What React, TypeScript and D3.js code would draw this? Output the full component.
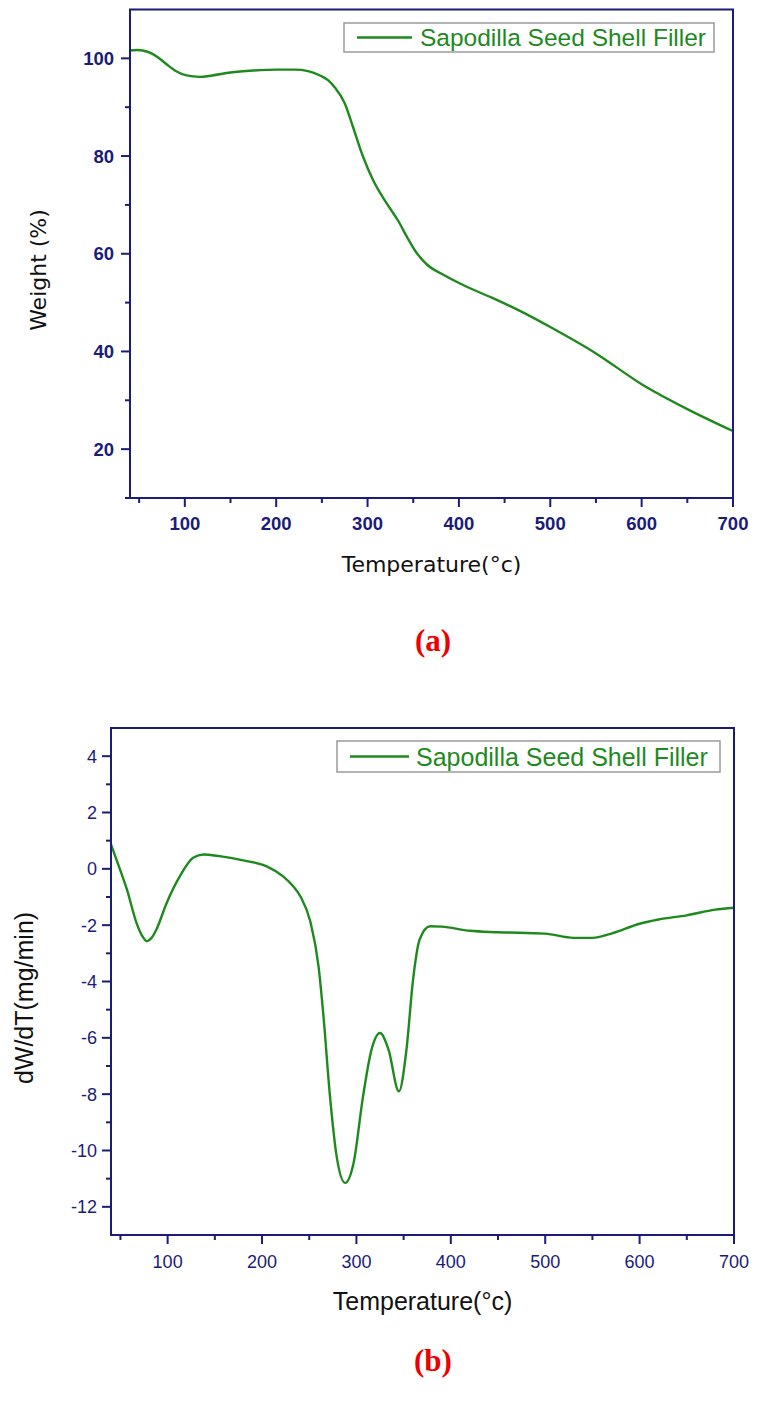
import React from "react";
import * as d3 from "d3";

// ---- Data ----
const tgaTemp = [40, 48, 60, 70, 80, 90, 102, 116, 130, 150, 175, 200, 220, 235, 248, 257, 264, 275, 284, 295, 306, 321, 334, 343, 354, 365, 383, 408, 436, 470, 500, 550, 600, 650, 700];
const tgaWeight = [101.6, 101.7, 101.3, 100.3, 98.8, 97.4, 96.5, 96.2, 96.5, 97.1, 97.5, 97.7, 97.7, 97.4, 96.5, 95.5, 94.1, 90.8, 86.0, 79.9, 75.1, 70.3, 66.6, 63.5, 60.1, 57.8, 55.7, 53.3, 51.0, 48.0, 45.0, 39.6, 33.3, 28.2, 23.7];

const dtgTemp = [40, 48, 57, 67, 73, 78, 83, 88, 99, 113, 127, 138, 155, 180, 205, 222, 233, 241, 251, 260, 265, 272, 279, 288, 297, 307, 316, 325, 334, 345, 353, 360, 367, 378, 390, 420, 450, 500, 530, 550, 570, 600, 620, 650, 680, 700];
const dtgRate = [0.87, 0.12, -0.75, -1.92, -2.38, -2.57, -2.45, -2.16, -1.21, -0.26, 0.39, 0.51, 0.45, 0.3, 0.09, -0.26, -0.62, -1.0, -1.85, -3.5, -5.2, -8.08, -10.2, -11.15, -10.44, -8.08, -6.42, -5.83, -6.42, -7.9, -6.42, -3.93, -2.51, -2.04, -2.05, -2.2, -2.25, -2.3, -2.45, -2.45, -2.3, -1.95, -1.8, -1.65, -1.45, -1.38];

const xMajorTicks = [100, 200, 300, 400, 500, 600, 700];
const xMinorTicks = [50, 150, 250, 350, 450, 550, 650];
const tgaYMajor = [20, 40, 60, 80, 100];
const tgaYMinor = [10, 30, 50, 70, 90];
const dtgYMajor = [4, 2, 0, -2, -4, -6, -8, -10, -12];
const dtgYMinor = [3, 1, -1, -3, -5, -7, -9, -11];

const seriesName = "Sapodilla Seed Shell Filler";
const xTitle = "Temperature(°c)";

const NAVY = "#1b1b78";
const GREEN = "#1e8a1e";

type PanelProps = {
  left: number; right: number; top: number; bottom: number;
  yDomain: [number, number];
  xs: number[]; ys: number[];
  yMajor: number[]; yMinor: number[];
  bold: boolean;
  yTitle: string; yTitleX: number; yTitleY: number;
  tickFont: number; tickLabelX: number;
  xLabelY: number; xTitleY: number; xTitleFont: string; xTitleSize: number;
  yTitleFont: string; yTitleSize: number;
  legend: { x: number; y: number; w: number; h: number; lineX1: number; lineX2: number; textX: number; size: number };
};

function Panel(p: PanelProps) {
  const x = d3.scaleLinear().domain([40, 700]).range([p.left, p.right]);
  const y = d3.scaleLinear().domain(p.yDomain).range([p.bottom, p.top]);
  const pts = p.xs.map((t, i) => [t, p.ys[i]] as [number, number]);
  const line = d3.line<[number, number]>().x(d => x(d[0])).y(d => y(d[1])).curve(d3.curveMonotoneX);
  const fw = p.bold ? "bold" : "normal";
  const tickFamily = "Liberation Sans, Arial, sans-serif";
  return (
    <g>
      <path d={line(pts) || ""} fill="none" stroke={GREEN} strokeWidth={2.4} strokeLinejoin="round" />
      <rect x={p.left} y={p.top} width={p.right - p.left} height={p.bottom - p.top} fill="none" stroke={NAVY} strokeWidth={2} />
      {xMajorTicks.map(t => (
        <g key={"xm" + t}>
          <line x1={x(t)} x2={x(t)} y1={p.bottom} y2={p.bottom + 9} stroke={NAVY} strokeWidth={2} />
          <text x={x(t)} y={p.xLabelY} textAnchor="middle" fontFamily={tickFamily} fontWeight={fw} fontSize={p.tickFont} fill={NAVY}>{t}</text>
        </g>
      ))}
      {xMinorTicks.map(t => (
        <line key={"xn" + t} x1={x(t)} x2={x(t)} y1={p.bottom} y2={p.bottom + 5} stroke={NAVY} strokeWidth={2} />
      ))}
      {p.yMajor.map(t => (
        <g key={"ym" + t}>
          <line x1={p.left - 9} x2={p.left} y1={y(t)} y2={y(t)} stroke={NAVY} strokeWidth={2} />
          <text x={p.tickLabelX} y={y(t)} dy="0.36em" textAnchor="end" fontFamily={tickFamily} fontWeight={fw} fontSize={p.tickFont} fill={NAVY}>{t}</text>
        </g>
      ))}
      {p.yMinor.map(t => (
        <line key={"yn" + t} x1={p.left - 5} x2={p.left} y1={y(t)} y2={y(t)} stroke={NAVY} strokeWidth={2} />
      ))}
      <text x={(p.left + p.right) / 2} y={p.xTitleY} textAnchor="middle" fontFamily={p.xTitleFont} fontSize={p.xTitleSize} fill="#111">{xTitle}</text>
      <text transform={`translate(${p.yTitleX},${p.yTitleY}) rotate(-90)`} textAnchor="middle" dy="0.35em" fontFamily={p.yTitleFont} fontSize={p.yTitleSize} fill="#111">{p.yTitle}</text>
      <rect x={p.legend.x} y={p.legend.y} width={p.legend.w} height={p.legend.h} fill="white" stroke="#9a9a9a" strokeWidth={1.5} />
      <line x1={p.legend.lineX1} x2={p.legend.lineX2} y1={p.legend.y + p.legend.h / 2} y2={p.legend.y + p.legend.h / 2} stroke={GREEN} strokeWidth={2.4} />
      <text x={p.legend.textX} y={p.legend.y + p.legend.h / 2} dy="0.36em" fontFamily="Liberation Sans, Arial, sans-serif" fontSize={p.legend.size} fill={GREEN}>{seriesName}</text>
    </g>
  );
}

export default function App() {
  return (
    <svg width={762} height={1405} style={{ position: "absolute", left: 0, top: 0, background: "white" }} xmlns="http://www.w3.org/2000/svg">
      <rect x={0} y={0} width={762} height={1405} fill="white" />
      <Panel
        left={130} right={733} top={9.5} bottom={498}
        yDomain={[10, 110]} xs={tgaTemp} ys={tgaWeight}
        yMajor={tgaYMajor} yMinor={tgaYMinor} bold={true}
        yTitle="Weight (%)" yTitleX={38} yTitleY={270}
        tickFont={18.5} tickLabelX={114}
        xLabelY={530} xTitleY={572} xTitleFont="DejaVu Sans, sans-serif" xTitleSize={22}
        yTitleFont="DejaVu Sans, sans-serif" yTitleSize={22}
        legend={{ x: 344, y: 23, w: 370, h: 29, lineX1: 357, lineX2: 412, textX: 420, size: 24.5 }}
      />
      <Panel
        left={111} right={734} top={728} bottom={1235}
        yDomain={[-13, 5]} xs={dtgTemp} ys={dtgRate}
        yMajor={dtgYMajor} yMinor={dtgYMinor} bold={false}
        yTitle="dW/dT(mg/min)" yTitleX={24} yTitleY={998}
        tickFont={18} tickLabelX={97}
        xLabelY={1268} xTitleY={1310} xTitleFont="Liberation Sans, Arial, sans-serif" xTitleSize={25}
        yTitleFont="Liberation Sans, Arial, sans-serif" yTitleSize={25}
        legend={{ x: 337, y: 741, w: 383, h: 31, lineX1: 350, lineX2: 409, textX: 416, size: 25 }}
      />
      <text x={433} y={651} textAnchor="middle" fontFamily="Liberation Serif, Times New Roman, serif" fontWeight="bold" fontSize={31} fill="#ee0000">(a)</text>
      <text x={433} y={1371} textAnchor="middle" fontFamily="Liberation Serif, Times New Roman, serif" fontWeight="bold" fontSize={31} fill="#ee0000">(b)</text>
    </svg>
  );
}
